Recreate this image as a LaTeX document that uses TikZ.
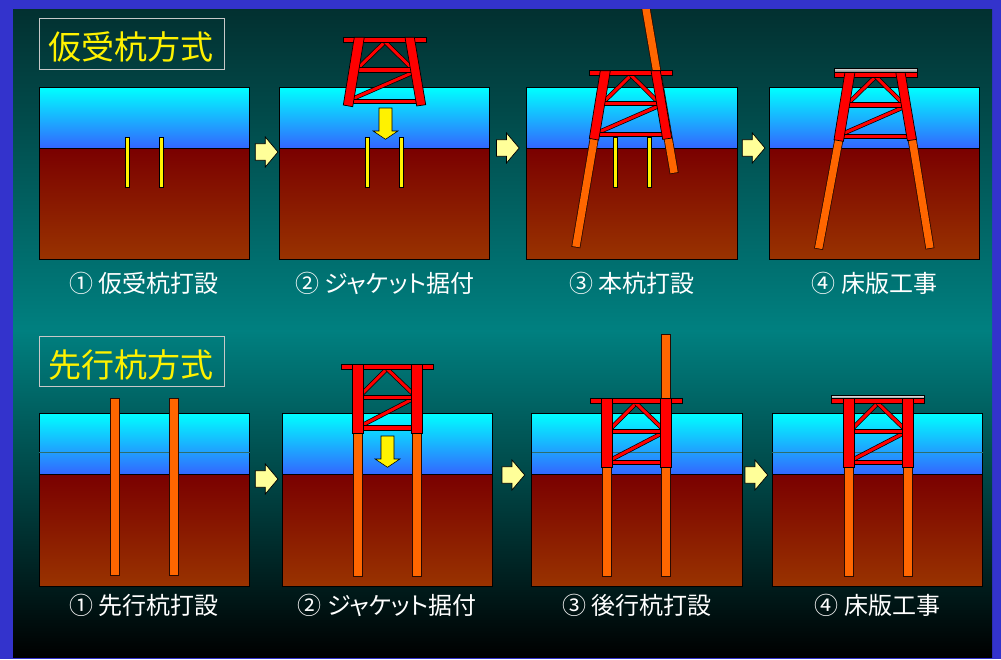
\documentclass[tikz,border=0pt]{standalone}
\usepackage{fontspec}
\newfontfamily\cjk{Noto Sans CJK JP}
\newfontfamily\cjklab[RawFeature=+palt]{Noto Sans CJK JP}
\definecolor{frameblue}{HTML}{3333CC}
\definecolor{bgtop}{HTML}{023030}
\definecolor{bgmid}{HTML}{008080}
\definecolor{seatop}{HTML}{00FFFF}
\definecolor{seabot}{HTML}{3366FF}
\definecolor{mudtop}{HTML}{7A0000}
\definecolor{mudbot}{HTML}{993300}
\definecolor{jred}{HTML}{FF0000}
\definecolor{pileor}{HTML}{FF6600}
\definecolor{pileedge}{HTML}{2A0A00}
\definecolor{hintyel}{HTML}{FFFF99}
\definecolor{boxgray}{HTML}{C8C8C8}
\definecolor{waterline}{HTML}{2E6E6E}
\definecolor{decklight}{HTML}{E0E0E0}
\definecolor{deckdark}{HTML}{7A7A7A}

\begin{document}
\begin{tikzpicture}[x=1pt,y=-1pt,
  jpart/.style={fill=jred, draw=black, line width=0.7pt, line join=miter},
  brace/.style={draw=black, line width=0.7pt, double=jred, double distance=3pt},
  pilebar/.style={fill=pileor, draw=pileedge, line width=0.8pt},
  pileout/.style={draw=pileedge, line width=9pt},
  pilein/.style={draw=pileor, line width=7.4pt, shorten <=0.8pt, shorten >=0.8pt},
  tempbar/.style={fill=yellow, draw=black, line width=0.7pt},
  water/.style={top color=seatop, bottom color=seabot, draw=black, line width=0.9pt},
  mud/.style={top color=mudtop, bottom color=mudbot, draw=black, line width=0.9pt},
  deck/.style={top color=decklight, bottom color=deckdark, draw=black, line width=0.6pt},
  titlebox/.style={draw=boxgray, line width=1pt, minimum width=185pt, minimum height=50.6pt, inner sep=0pt},
  titletext/.style={text=yellow, font=\cjk\fontsize{33pt}{33pt}\selectfont, inner sep=0pt},
  stagelabel/.style={text=white, font=\cjklab\fontsize{24pt}{24pt}\selectfont, inner sep=0pt},
  % tapered jacket, origin at the top-left corner of the top beam
  jacketT/.pic={
    \draw[brace] (41.7,4.5) -- (15,30.5);
    \draw[brace] (41.7,4.5) -- (68,30.5);
    \draw[brace] (10.5,61) -- (70,35);
    \filldraw[jpart] (13,30.4) rectangle (70,35);
    \filldraw[jpart] (8,62) rectangle (75,66);
    \filldraw[jpart] (0,0) rectangle (83,5);
    \filldraw[jpart] (11,0) -- (21,0) -- (9.4,69.4) -- (0,67.7) -- cycle;
    \filldraw[jpart] (61.7,0) -- (71,0) -- (82.4,67.4) -- (73.4,68.7) -- cycle;
  },
  % straight jacket, origin at the top-left corner of the top beam
  jacketV/.pic={
    \draw[brace] (46,4.5) -- (21,29.5);
    \draw[brace] (46,4.5) -- (72,29.5);
    \draw[brace] (21,61) -- (72,34.5);
    \filldraw[jpart] (20,30.7) rectangle (73,35);
    \filldraw[jpart] (20,61.4) rectangle (73,65.7);
    \filldraw[jpart] (0,0) rectangle (92.7,5);
    \filldraw[jpart] (11.3,0) rectangle (22.3,69);
    \filldraw[jpart] (70.7,0) rectangle (81.3,69);
  },
  % step arrow between stages, origin at the middle of its tail
  blockarrow/.pic={
    \filldraw[fill=hintyel, draw=black, line width=0.7pt]
      (0,-8.3) -- (10,-8.3) -- (10,-15) -- (22.7,0) -- (10,15) -- (10,8.3) -- (0,8.3) -- cycle;
  },
  % lowering arrow, origin at the middle of its top edge
  downarrow/.pic={
    \filldraw[fill=yellow, draw=black, line width=0.6pt]
      (-6.5,0) -- (6.5,0) -- (6.5,23) -- (12.4,23) -- (0,31.3) -- (-12.4,23) -- (-6.5,23) -- cycle;
  }
]
\useasboundingbox (0,0) rectangle (1001,659);

% frame and background
\fill[frameblue] (0,0) rectangle (1001,659);
\begin{scope}
\clip (13,9) rectangle (992,657);
\shade[top color=bgtop, bottom color=bgmid] (13,9) rectangle (992,331);
\shade[top color=bgmid, bottom color=black] (13,330) rectangle (992,657);

% ---------- upper row: temporary-pile method ----------
\foreach \px in {39,279.3,526.7,769.3} {
  \shadedraw[water] (\px,87.7) rectangle ++(210.5,60.3);
  \shadedraw[mud] (\px,148) rectangle ++(210.5,111.5);
}
\foreach \px in {39,279.3,526.7} {
  \filldraw[tempbar] (\px+86.3,137) rectangle ++(4,50);
  \filldraw[tempbar] (\px+120.3,137) rectangle ++(4,50);
}
% main piles driven through the legs
\draw[pileout] (575.8,247.5) -- (595.5,131);
\draw[pilein]  (575.8,247.5) -- (595.5,131);
\draw[pileout] (674.2,173.5) -- (644.5,0);
\draw[pilein]  (674.2,173.5) -- (644.5,0);
\draw[pileout] (818.5,249.2) -- (840.3,132);
\draw[pilein]  (818.5,249.2) -- (840.3,132);
\draw[pileout] (930,248.8) -- (911,132);
\draw[pilein]  (930,248.8) -- (911,132);

\pic at (343.3,37.3) {jacketT};
\pic at (589.3,70.7) {jacketT};
\pic at (834,72) {jacketT};
\shadedraw[deck] (834,68.3) rectangle (917,72);
\pic at (385.5,108) {downarrow};

\pic at (255.3,152) {blockarrow};
\pic at (496.5,148) {blockarrow};
\pic at (742.3,148) {blockarrow};

\node[titlebox] (box1) at (131.5,44) {};
\node[titletext] (title1) at (130.7,46.7) {仮受杭方式};

\node[stagelabel] (a1) at (144.3,283) {① 仮受杭打設};
\node[stagelabel] (a2) at (384.6,283) {② ジャケット据付};
\node[stagelabel] (a3) at (632,283) {③ 本杭打設};
\node[stagelabel] (a4) at (874.6,283) {④ 床版工事};

% ---------- lower row: pre-driven pile method ----------
\foreach \px/\ln in {39/1,282/0,531.7/1,772.3/1} {
  \shadedraw[water] (\px,413.7) rectangle ++(210.5,60.6);
  \ifnum\ln=1 \draw[waterline, line width=0.8pt] (\px,452.5) -- ++(210.5,0); \fi
  \shadedraw[mud] (\px,474.3) rectangle ++(210.5,111.7);
}
\filldraw[pilebar] (110,398.7) rectangle (119,575.7);
\filldraw[pilebar] (169.3,398.7) rectangle (178.7,575.7);
\filldraw[pilebar] (353.3,430) rectangle (362.7,576.7);
\filldraw[pilebar] (412.3,430) rectangle (421.7,576.7);
\filldraw[pilebar] (602.7,460) rectangle (611.3,576);
\filldraw[pilebar] (661.3,334.3) rectangle (670.3,576);
\filldraw[pilebar] (844.3,460) rectangle (853.3,576);
\filldraw[pilebar] (903.3,460) rectangle (912.3,576);

\pic at (341,364.3) {jacketV};
\pic at (590,398.7) {jacketV};
\pic at (831.7,398.7) {jacketV};
\shadedraw[deck] (831.7,395.7) rectangle (924.4,398.7);
\pic at (387.5,436) {downarrow};

\pic at (255.3,479) {blockarrow};
\pic at (502,475) {blockarrow};
\pic at (745,475) {blockarrow};

\node[titlebox] (box2) at (131.5,361.3) {};
\node[titletext] (title2) at (130.7,365) {先行杭方式};

\node[stagelabel] (b1) at (144.3,605.5) {① 先行杭打設};
\node[stagelabel] (b2) at (387.2,605.5) {② ジャケット据付};
\node[stagelabel] (b3) at (636.9,605.5) {③ 後行杭打設};
\node[stagelabel] (b4) at (877.5,605.5) {④ 床版工事};
\end{scope}
\end{tikzpicture}
\end{document}
